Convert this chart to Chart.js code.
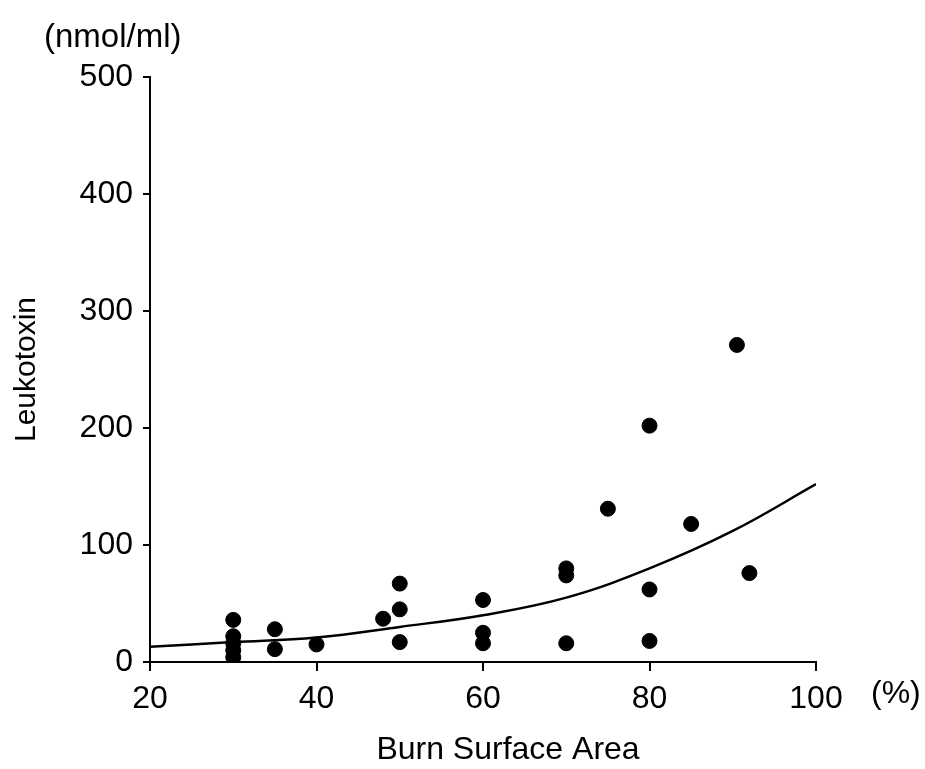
<!DOCTYPE html>
<html>
<head>
<meta charset="utf-8">
<script src="https://cdn.jsdelivr.net/npm/chart.js@4/dist/chart.umd.min.js"></script>
<style>
  html, body { margin: 0; padding: 0; background: #fff; }
  canvas { display: block; }
</style>
</head>
<body>
<canvas id="chart" width="925" height="769"></canvas>
<script>
// measured patients: burn surface area (%) vs leukotoxin (nmol/ml)
const burnArea = [30, 30, 30, 30, 30, 35, 35, 40, 48, 50, 50, 50, 60, 60, 60, 70, 70, 70, 75, 80, 80, 80, 85, 90.5, 92];
const leukotoxin = [36, 22, 16, 10, 4, 28, 11, 15, 37, 67, 45, 17, 53, 25, 16, 80, 74, 16, 131, 202, 62, 18, 118, 271, 76];

// fitted curve
const curveX = [20, 30, 40, 50, 60, 70, 80, 90, 100];
const curveY = [13, 17, 21, 30, 40, 55, 80, 112, 152];

const xTicks = [20, 40, 60, 80, 100];
const yTicks = [0, 100, 200, 300, 400, 500];

const FONT = "'Liberation Sans', Arial, Helvetica, sans-serif";

// extra text labels (units + axis titles)
const labelsPlugin = {
  id: "labels",
  afterDraw(chart) {
    const ctx = chart.ctx;
    const area = chart.chartArea;
    ctx.save();
    ctx.fillStyle = "#000";
    ctx.textBaseline = "middle";
    ctx.textAlign = "left";
    ctx.font = "33px " + FONT;
    ctx.fillText("(nmol/ml)", 44, 38);
    ctx.font = "32px " + FONT;
    ctx.fillText("(%)", area.right + 55, 694);
    ctx.textAlign = "center";
    ctx.font = "32px " + FONT;
    ctx.fillText("Burn Surface Area", 508, 750);
    ctx.translate(27, (area.top + area.bottom) / 2);
    ctx.rotate(-Math.PI / 2);
    ctx.font = "30px " + FONT;
    ctx.fillText("Leukotoxin", 0, 0);
    ctx.restore();
  },
};

const ctx = document.getElementById("chart").getContext("2d");
new Chart(ctx, {
  data: {
    datasets: [
      {
        type: "scatter",
        data: burnArea.map((x, i) => ({ x: x, y: leukotoxin[i] })),
        backgroundColor: "#000",
        borderColor: "#000",
        pointRadius: 7.5,
        pointHoverRadius: 7.5,
      },
      {
        type: "line",
        data: curveX.map((x, i) => ({ x: x, y: curveY[i] })),
        borderColor: "#000",
        borderWidth: 2.5,
        pointRadius: 0,
        tension: 0.4,
        fill: false,
      },
    ],
  },
  options: {
    responsive: false,
    animation: false,
    layout: { padding: { top: 77, right: 109, left: 0, bottom: 0 } },
    plugins: { legend: { display: false }, tooltip: { enabled: false } },
    scales: {
      x: {
        type: "linear",
        min: 20,
        max: 100,
        afterBuildTicks: (s) => { s.ticks = xTicks.map((v) => ({ value: v })); },
        afterFit: (s) => { s.height = 107; },
        grid: { drawOnChartArea: false, drawTicks: true, tickLength: 9, color: "#000", lineWidth: 2 },
        border: { display: true, color: "#000", width: 2 },
        ticks: { color: "#000", font: { family: FONT, size: 32 }, padding: 9 },
      },
      y: {
        type: "linear",
        min: 0,
        max: 500,
        afterBuildTicks: (s) => { s.ticks = yTicks.map((v) => ({ value: v })); },
        afterFit: (s) => { s.width = 150; },
        grid: { drawOnChartArea: false, drawTicks: true, tickLength: 7, color: "#000", lineWidth: 2 },
        border: { display: true, color: "#000", width: 2 },
        ticks: { color: "#000", font: { family: FONT, size: 32 }, padding: 10 },
      },
    },
  },
  plugins: [labelsPlugin],
});
</script>
</body>
</html>
